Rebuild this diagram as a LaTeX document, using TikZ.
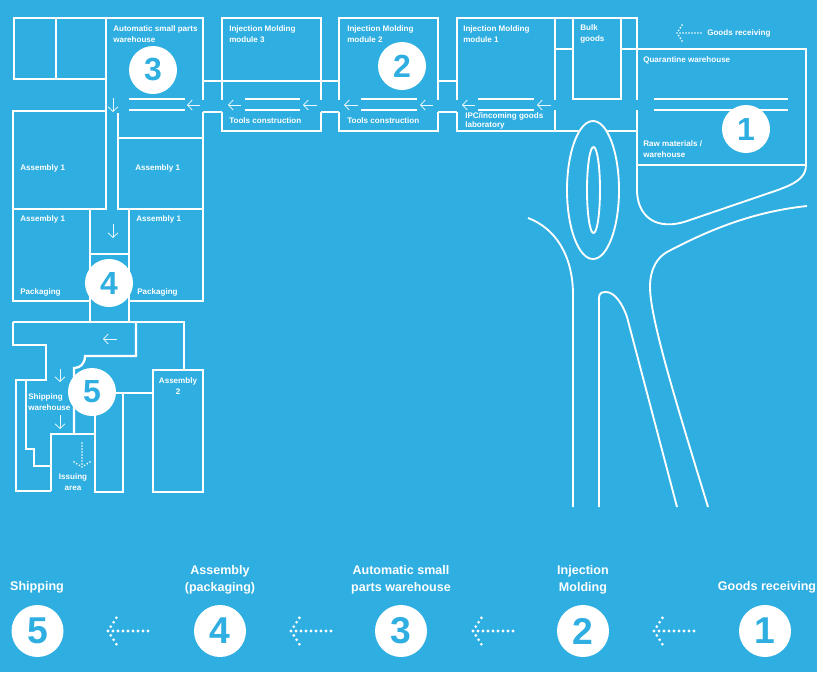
\documentclass[tikz,border=0pt]{standalone}
\usepackage{fontspec}
\setmainfont{Liberation Sans}
\usetikzlibrary{arrows.meta}
\definecolor{planblue}{HTML}{2EAEE1}

\tikzset{
  wall/.style={draw=white,line width=1.7pt},
  road/.style={draw=white,line width=1.4pt},
  flow/.style={draw=white!90!planblue,line width=.6pt,-{Straight Barb[length=3.5pt,width=7.5pt]}},
  small/.style={text=white,font=\bfseries\fontsize{6.05}{8.2}\selectfont,inner sep=0pt,anchor=west,align=left},
  smallc/.style={small,anchor=center,align=center},
  head/.style={text=white,font=\bfseries\fontsize{9.4}{12.6}\selectfont,inner sep=0pt,align=center},
  stepnum/.style={circle,fill=white,text=planblue,inner sep=0pt,minimum size=36pt,font=\bfseries\fontsize{24}{24}\selectfont},
  bignum/.style={stepnum,minimum size=39pt,font=\bfseries\fontsize{28}{28}\selectfont},
  dotarrow/.pic={
    \foreach \i in {0,...,8} \fill[white] (5*\i,0) circle [radius=1.15pt];
    \foreach \i in {1,2,3} {
      \fill[white] (2.8*\i,4.4*\i) circle [radius=1.15pt];
      \fill[white] (2.8*\i,-4.4*\i) circle [radius=1.15pt];
    }
  }
}

\begin{document}
\begin{tikzpicture}[x=.75pt,y=-.75pt]
    \fill[planblue] (0,0) rectangle (817,672);
    \useasboundingbox (0,0) rectangle (817,672);

    % top left and assembly
    \draw[wall] (14,18) rectangle (106,79);
    \draw[wall] (56,18) -- (56,79);
    \draw[wall] (106,18) -- (203,18) -- (203,100);
    \draw[wall] (106,79) -- (106,209);
    \draw[wall] (13,111) rectangle (106,209);
    \draw[wall] (118,113) -- (118,209) -- (129,209);
    \draw[wall] (118,138) -- (203,138);
    \draw[wall] (203,112) -- (203,209);
    \draw[wall] (13,209) rectangle (90,301);
    \draw[wall] (129,209) rectangle (203,301);
    \draw[wall] (90,254) -- (129,254);
    \draw[wall] (90,301) -- (90,322);
    \draw[wall] (129,301) -- (129,322);

    % moulding modules
    \foreach \xa/\xb in {222/321,339/438} {
      \draw[wall] (\xa,100) -- (\xa,18) -- (\xb,18) -- (\xb,100);
      \draw[wall] (\xa,112) -- (\xa,131) -- (\xb,131) -- (\xb,112);
    }
    \draw[wall] (203,81) -- (339,81);
    \draw[wall] (438,81) -- (457,81);
    \foreach \xa/\xb in {203/222,321/339,438/457}
      \draw[wall] (\xa,112) -- (\xb,112);
    \draw[wall] (457,100) -- (457,18) -- (637,18) -- (637,100);
    \draw[wall] (457,112) -- (457,131) -- (580,131);
    \draw[wall] (555,18) -- (555,100);
    \draw[wall] (555,110) -- (555,131);
    \draw[wall] (555,49) -- (573,49);
    \draw[wall] (573,18) -- (573,99) -- (621,99) -- (621,18);
    \draw[wall] (607,131) -- (637,131);

    % receiving hall
    \draw[wall] (621,49) -- (806,49) -- (806,165) -- (637,165);
    \draw[wall] (637,110) -- (637,165);
    \draw[road] (637,165) -- (637,190) .. controls (637,215) and (655,233) .. (690,220)
      -- (775,191) .. controls (795,184) and (806,178) .. (806,165);

    % racks
    \foreach \xa/\xb in {129/185,245/300,361/417,478/534,654/788} {
      \draw[wall] (\xa,99) -- (\xb,99);
      \draw[wall] (\xa,110) -- (\xb,110);
    }

    % roads
    \draw[road] (593,190) ellipse [x radius=26,y radius=69];
    \draw[road] (593.5,190) ellipse [x radius=6.5,y radius=43];
    \draw[road] (528,218) .. controls (555,228) and (573,255) .. (573,295) -- (573,507);
    \draw[road] (599,507) -- (599,298) .. controls (599,293) and (602,292) .. (606,292)
      .. controls (615,292) and (623,305) .. (627,317) -- (677,507);
    \draw[road] (708,507) .. controls (680,415) and (650,320) .. (650,287)
      .. controls (650,268) and (658,257) .. (667,252)
      .. controls (705,232) and (750,212) .. (807,206);

    % shipping
    \draw[wall] (13,322) -- (184,322) -- (184,370);
    \draw[wall] (13,322) -- (13,345) -- (46,345) -- (46,380) -- (16,380) -- (16,491) -- (51,491);
    \draw[wall] (136,322) -- (136,356) -- (85,356) .. controls (85,364) and (80,368) .. (74,368) -- (74,434);
    \draw[wall] (26,380) -- (26,449) -- (34,449) -- (34,466) -- (51,466);
    \draw[wall] (51,491) -- (51,434) -- (95,434);
    \draw[wall] (95,400) -- (95,492) -- (123,492) -- (123,393);
    \draw[wall] (110,393) -- (153,393);
    \draw[wall] (153,370) rectangle (203,492);

    % flow arrows
    \foreach \xa/\xb/\yy in {200/187/105,241/228/105,317/303/105,358/344/105,433/420/105,475/462/105,551/537/105,117/103/339}
      \draw[flow] (\xa,\yy) -- (\xb,\yy);
    \foreach \xx/\ya/\yb in {113/98/112,113/224/238,60/369/382,60/415/429}
      \draw[flow] (\xx,\ya) -- (\xx,\yb);
    \pic[scale=.6] at (677,33) {dotarrow};
    \pic[scale=.6,rotate=90] at (82,467) {dotarrow};
    \foreach \xx in {108,291,473,654}
      \pic at (\xx,631) {dotarrow};

    % numbers on the plan
    \node[stepnum] (plan3) at (153,70) {3};
    \node[stepnum] (plan2) at (402,66) {2};
    \node[stepnum] (plan1) at (746,129) {1};
    \node[stepnum] (plan4) at (109,283) {4};
    \node[stepnum] (plan5) at (92,392) {5};

    % numbers in the legend
    \node[bignum] (leg5) at (37.5,631) {5};
    \node[bignum] (leg4) at (220,631) {4};
    \node[bignum] (leg3) at (401,631) {3};
    \node[bignum] (leg2) at (583,631) {2};
    \node[bignum] (leg1) at (765,631) {1};

    \node[head] (name5) at (37,587) {Shipping};
    \node[head] (name4) at (220,579.5) {Assembly\\(packaging)};
    \node[head] (name3) at (401,579.5) {Automatic small\\parts warehouse};
    \node[head] (name2) at (583,579.5) {Injection\\Molding};
    \node[head] (name1) at (767,587) {Goods receiving};

    % room labels
    \node[small] (autoware) at (113,34) {Automatic small parts\\warehouse};
    \node[small] (mod3) at (229,34) {Injection Molding\\module 3};
    \node[small] (mod2) at (347,34) {Injection Molding\\module 2};
    \node[small] (mod1) at (463,34) {Injection Molding\\module 1};
    \node[small] (bulk) at (580,34) {Bulk\\goods};
    \node[small] (recv) at (707,33) {Goods receiving};
    \node[small] (quar) at (643,60) {Quarantine warehouse};
    \node[small] (raw) at (643,149.5) {Raw materials /\\warehouse};
    \node[small] (tools3) at (229,121) {Tools construction};
    \node[small] (tools2) at (347,121) {Tools construction};
    \node[small,font=\bfseries\fontsize{6.05}{6.2}\selectfont] (ipc) at (465,121) {IPC/incoming goods\\laboratory};
    \node[small] (asm1) at (20,168) {Assembly 1};
    \node[small] (asm2) at (135,168) {Assembly 1};
    \node[small] (asm3) at (20,219) {Assembly 1};
    \node[small] (asm4) at (136,219) {Assembly 1};
    \node[small] (pack1) at (20,292) {Packaging};
    \node[small] (pack2) at (137,292) {Packaging};
    \node[smallc] (asm5) at (178,386.5) {Assembly\\2};
    \node[small] (shipw) at (28,402.5) {Shipping\\warehouse};
    \node[smallc] (issue) at (73,482.5) {Issuing\\area};
  \end{tikzpicture}
\end{document}
